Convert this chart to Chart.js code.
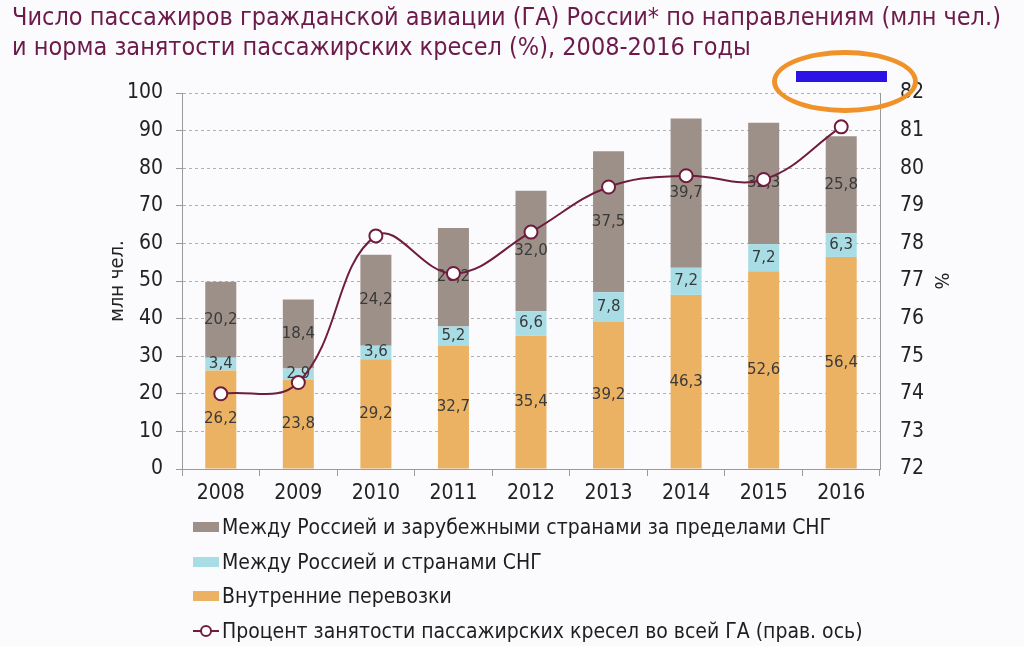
<!DOCTYPE html>
<html lang="ru">
<head>
  <meta charset="UTF-8">
  <title>Пассажиры ГА России 2008-2016</title>
  <script src="https://cdn.jsdelivr.net/npm/chart.js"></script>
  <style>
    body {
      margin: 0;
      background: #fbfbfd;
      font-family: "Liberation Sans Narrow", "DejaVu Sans Condensed", "Roboto Condensed", "Liberation Sans", sans-serif;
    }
    .wrap {
      position: relative;
      width: 1024px;
      height: 646px;
      overflow: hidden;
    }
    canvas {
      position: absolute;
      left: 0;
      top: 0;
    }
    .title {
      position: absolute;
      left: 12px;
      top: 2px;
      font-size: 25px;
      line-height: 30px;
      color: #6c1a4a;
      white-space: nowrap;
    }
    .legend {
      position: absolute;
      left: 193px;
      top: 510px;
      font-size: 21px;
      color: #1e1e1e;
    }
    .legend .item {
      height: 34.5px;
      display: flex;
      align-items: center;
    }
    .legend .box {
      width: 26px;
      height: 10px;
      margin-right: 3px;
    }
    .legend svg {
      margin-right: 3px;
    }
    .oval {
      position: absolute;
      left: 772px;
      top: 50px;
      width: 146px;
      height: 63px;
      box-sizing: border-box;
      border: 5px solid #f0922a;
      border-radius: 50%;
    }
    .blue {
      position: absolute;
      left: 796px;
      top: 71px;
      width: 91px;
      height: 11px;
      background: #2d12e6;
    }
  </style>
</head>
<body>
  <div class="wrap">
    <canvas id="chart" width="1024" height="646"></canvas>
    <div class="title">Число пассажиров гражданской авиации (ГА) России* по направлениям (млн чел.)<br>и норма занятости пассажирских кресел (%), 2008-2016 годы</div>
    <div class="legend" id="legend"></div>
    <div class="oval"></div>
    <div class="blue"></div>
  </div>

  <script>
    const years = ['2008', '2009', '2010', '2011', '2012', '2013', '2014', '2015', '2016'];
    const domestic = [26.2, 23.8, 29.2, 32.7, 35.4, 39.2, 46.3, 52.6, 56.4];
    const cis = [3.4, 2.9, 3.6, 5.2, 6.6, 7.8, 7.2, 7.2, 6.3];
    const foreign = [20.2, 18.4, 24.2, 26.2, 32.0, 37.5, 39.7, 32.3, 25.8];
    const loadFactor = [74.0, 74.3, 78.2, 77.2, 78.3, 79.5, 79.8, 79.7, 81.1];

    const narrow = '"Liberation Sans Narrow", "DejaVu Sans Condensed", "Roboto Condensed", "Liberation Sans", sans-serif';
    const lineColor = '#701c3c';

    // value labels in the middle of each bar segment, drawn before the line
    const barLabels = {
      id: 'barLabels',
      afterDatasetDraw(chart, args) {
        const ds = chart.data.datasets[args.index];
        if (ds.type === 'line') return;
        const ctx = chart.ctx;
        ctx.save();
        ctx.font = '15px "DejaVu Sans", sans-serif';
        ctx.fillStyle = '#3a3a3a';
        ctx.textAlign = 'center';
        ctx.textBaseline = 'middle';
        args.meta.data.forEach((bar, j) => {
          ctx.fillText(ds.data[j].toFixed(1).replace('.', ','), bar.x, (bar.y + bar.base) / 2);
        });
        ctx.restore();
      }
    };

    const tickFont = { family: narrow, size: 21 };

    const chart = new Chart(document.getElementById('chart'), {
      type: 'bar',
      data: {
        labels: years,
        datasets: [
          {
            label: 'Внутренние перевозки',
            data: domestic,
            backgroundColor: '#ebb263',
            yAxisID: 'y',
            order: 1
          },
          {
            label: 'Между Россией и странами СНГ',
            data: cis,
            backgroundColor: '#a9dde6',
            yAxisID: 'y',
            order: 1
          },
          {
            label: 'Между Россией и зарубежными странами за пределами СНГ',
            data: foreign,
            backgroundColor: '#9d9088',
            yAxisID: 'y',
            order: 1
          },
          {
            type: 'line',
            label: 'Процент занятости пассажирских кресел во всей ГА (прав. ось)',
            data: loadFactor,
            yAxisID: 'y2',
            borderColor: lineColor,
            borderWidth: 2,
            tension: 0.4,
            pointRadius: 6.5,
            pointBorderWidth: 2,
            pointBackgroundColor: '#ffffff',
            pointBorderColor: lineColor,
            order: 0
          }
        ]
      },
      options: {
        responsive: false,
        animation: false,
        barPercentage: 0.4,
        categoryPercentage: 1,
        layout: { padding: { top: 93, bottom: 137, left: 0, right: 0 } },
        plugins: {
          legend: { display: false },
          tooltip: { enabled: false }
        },
        scales: {
          x: {
            stacked: true,
            offset: true,
            grid: { offset: true, drawOnChartArea: false, tickLength: 7, tickColor: '#9a9a9a' },
            border: { color: '#9a9a9a' },
            ticks: { font: tickFont, color: '#222', padding: 5 },
            afterFit: s => { s.height = 40; }
          },
          y: {
            stacked: true,
            position: 'left',
            min: 0,
            max: 100,
            ticks: { stepSize: 10, font: tickFont, color: '#222', padding: 13 },
            grid: { color: '#b0b0b0', tickColor: '#9a9a9a', tickLength: 6, tickBorderDash: [] },
            border: { display: true, color: '#9a9a9a', dash: [3, 3] },
            title: { display: true, text: 'млн чел.', font: { family: narrow, size: 20 }, color: '#222', padding: { top: 106 } },
            afterFit: s => { s.width = 182; }
          },
          y2: {
            position: 'right',
            min: 72,
            max: 82,
            ticks: { stepSize: 1, font: tickFont, color: '#222', padding: 20 },
            grid: { display: false, drawTicks: false },
            border: { display: true, color: '#9a9a9a' },
            title: { display: true, text: '%', font: { family: narrow, size: 20 }, color: '#222', padding: { top: 72 } },
            afterFit: s => { s.width = 144; }
          }
        }
      },
      plugins: [barLabels]
    });

    // legend below the chart, top series first
    const legend = document.getElementById('legend');
    [2, 1, 0, 3].forEach(i => {
      const ds = chart.data.datasets[i];
      const item = document.createElement('div');
      item.className = 'item';
      if (ds.type === 'line') {
        item.innerHTML = '<svg width="26" height="14"><line x1="0" y1="7" x2="26" y2="7" stroke="' + lineColor +
          '" stroke-width="2"/><circle cx="13" cy="7" r="5" fill="#fff" stroke="' + lineColor + '" stroke-width="2"/></svg>';
      } else {
        item.innerHTML = '<span class="box" style="background:' + ds.backgroundColor + '"></span>';
      }
      item.appendChild(document.createTextNode(ds.label));
      legend.appendChild(item);
    });
  </script>
</body>
</html>
